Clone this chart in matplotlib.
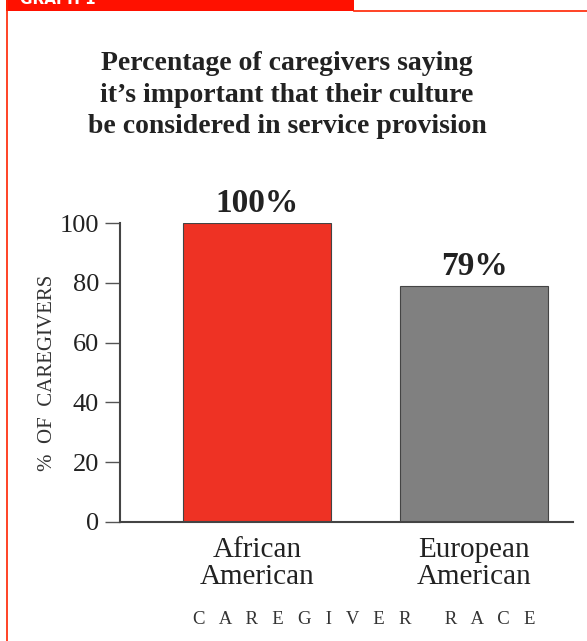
import matplotlib.pyplot as plt
from matplotlib.patches import Rectangle
from matplotlib.lines import Line2D

plt.rcParams['font.family'] = ['Liberation Serif', 'DejaVu Serif']

races = ['African\nAmerican', 'European\nAmerican']
percent = [100, 79]
bar_labels = ['100%', '79%']
colors = ['#EE3224', '#808080']
yticks = [0, 20, 40, 60, 80, 100]

W, H = 587, 641
fig = plt.figure(figsize=(W / 100, H / 100), dpi=100)

# header band and red frame
fig.patches.append(Rectangle((6 / W, 1 - 11 / H), 348 / W, 11 / H, transform=fig.transFigure,
                             facecolor='#FF1100', edgecolor='none'))
fig.text(20 / W, 1 - 7 / H, 'GRAPH 1', color='white', fontsize=11, fontweight='bold',
         family='DejaVu Sans', va='bottom', ha='left')
fig.lines.append(Line2D([6.5 / W, 6.5 / W], [0, 1], transform=fig.transFigure,
                        color='#FF2200', lw=1.2))
fig.lines.append(Line2D([354 / W, 1], [1 - 10.5 / H, 1 - 10.5 / H], transform=fig.transFigure,
                        color='#FF2200', lw=1.2))

fig.text(287 / W, 1 - 95 / H,
         'Percentage of caregivers saying\nit\u2019s important that their culture\nbe considered in service provision',
         ha='center', va='center', fontsize=20, fontweight='bold', color='#222222', linespacing=1.32)

ax = fig.add_axes([120 / W, 1 - 522 / H, (573 - 120) / W, (522 - 223) / H])
x = [0, 1]
ax.bar(x, percent, width=0.68, color=colors, edgecolor='#444444', linewidth=0.8)
for xi, v, lab in zip(x, percent, bar_labels):
    ax.text(xi, v + 1.2, lab, ha='center', va='bottom', fontsize=24, fontweight='bold',
            color='#222222')

ax.set_xlim(-0.631, 1.456)
ax.set_ylim(0, 100)
ax.set_yticks(yticks)
ax.set_xticks(x)
ax.set_xticklabels(races, fontsize=21, color='#222222', linespacing=1.05)
ax.tick_params(axis='x', length=0, pad=11)
ax.tick_params(axis='y', length=11, width=1, color='#555555', labelsize=19,
               labelcolor='#222222', pad=4)
for s in ['top', 'right']:
    ax.spines[s].set_visible(False)
for s in ['left', 'bottom']:
    ax.spines[s].set_color('#444444')
    ax.spines[s].set_linewidth(1.5)

ax.set_ylabel('%  OF  CAREGIVERS', fontsize=15, color='#333333')
ax.yaxis.set_label_coords(-0.14, 0.5)
fig.text(364 / W, 1 - 619 / H, 'C   A   R   E   G   I   V   E   R       R   A   C   E',
         ha='center', va='center', fontsize=13.5, color='#333333')

fig.savefig('out.png', dpi=100)
